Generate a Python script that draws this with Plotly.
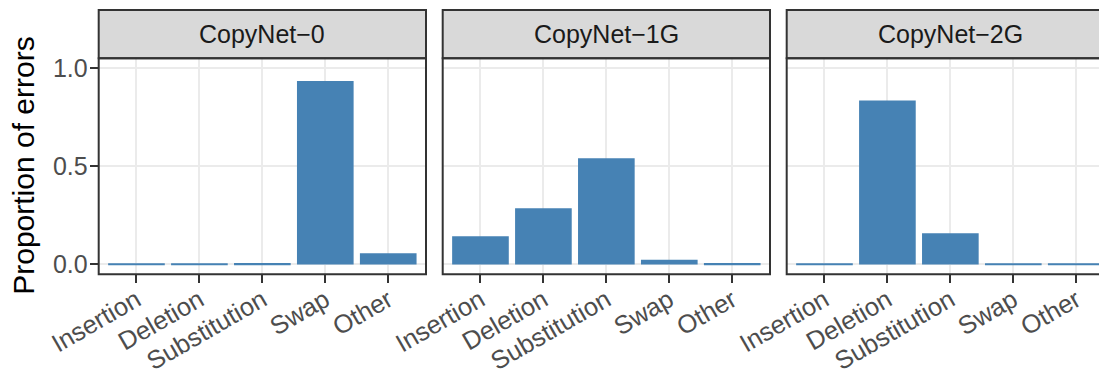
import plotly.graph_objects as go

categories = ["Insertion", "Deletion", "Substitution", "Swap", "Other"]
panels = ["CopyNet−0", "CopyNet−1G", "CopyNet−2G"]
copynet_0 = [0.003, 0.003, 0.007, 0.934, 0.057]
copynet_1g = [0.144, 0.286, 0.541, 0.024, 0.007]
copynet_2g = [0.003, 0.835, 0.159, 0.003, 0.003]
y_ticks = [0.0, 0.5, 1.0]

OFF = 8  # page body margin
W, H = 1107 - OFF, 371 - OFF
series = [copynet_0, copynet_1g, copynet_2g]

# panel pixel geometry (in window pixels)
panel_left = [98.7, 442.7, 786.7]
panel_w = 327.3
unit = panel_w / 5.2
panel_top, panel_bot = 58.3, 274.3
strip_top = 10.0

def px(x):
    return (x - OFF) / W

def py(y):
    return 1 - (y - OFF) / H

fig = go.Figure()
x_pos = list(range(1, 6))

shapes = []
annotations = []
GRID = "#EBEBEB"
DARK = "#333333"
FONT = "Liberation Sans, Arial"

for i, (name, vals) in enumerate(zip(panels, series)):
    k = "" if i == 0 else str(i + 1)
    fig.add_trace(go.Bar(
        x=x_pos, y=vals, width=0.9, marker=dict(color="#4682B4", line=dict(width=0)),
        xaxis="x" + k, yaxis="y" + k, showlegend=False,
        hovertext=categories, hoverinfo="text+y",
    ))
    left = panel_left[i]
    right = min(left + panel_w, 1107)
    xr_hi = 0.4 + (right - left) / unit
    fig.update_layout(**{
        "xaxis" + k: dict(
            domain=[px(left), min(px(right), 1.0)], range=[0.4, xr_hi], anchor="y" + k,
            tickmode="array", tickvals=x_pos, ticktext=categories, tickangle=-30,
            ticks="outside", ticklen=8, tickwidth=2, tickcolor=DARK,
            ticklabelstandoff=-8,
            showgrid=True, gridcolor=GRID, gridwidth=2.2, zeroline=False, showline=False,
            tickfont=dict(family=FONT, size=25.5, color="#4D4D4D"),
            fixedrange=True, automargin=False,
        ),
        "yaxis" + k: dict(
            domain=[py(panel_bot), py(panel_top)], range=[-0.05, 1.05], anchor="x" + k,
            tickmode="array", tickvals=y_ticks, tickformat=".1f",
            ticks="outside" if i == 0 else "", ticklen=8, tickwidth=2, tickcolor=DARK,
            ticklabelstandoff=-3,
            showticklabels=(i == 0),
            showgrid=True, gridcolor=GRID, gridwidth=2.2, zeroline=False, showline=False,
            tickfont=dict(family=FONT, size=25, color="#4D4D4D"),
            fixedrange=True, automargin=False,
        ),
    })
    # strip
    shapes.append(dict(type="rect", xref="paper", yref="paper",
                       x0=px(left), x1=px(left + panel_w), y0=py(panel_top), y1=py(strip_top),
                       fillcolor="#D9D9D9", line=dict(color=DARK, width=2), layer="above"))
    # panel border
    shapes.append(dict(type="rect", xref="paper", yref="paper",
                       x0=px(left), x1=px(left + panel_w), y0=py(panel_bot), y1=py(panel_top),
                       fillcolor="rgba(0,0,0,0)", line=dict(color=DARK, width=2), layer="above"))
    annotations.append(dict(text=name, xref="paper", yref="paper",
                            x=px(left + panel_w / 2), y=py((strip_top + panel_top) / 2),
                            xanchor="center", yanchor="middle", showarrow=False,
                            font=dict(family=FONT, size=25, color="#1A1A1A")))

annotations.append(dict(text="Proportion of errors", xref="paper", yref="paper",
                        x=px(23.5), y=py((panel_top + panel_bot) / 2), textangle=-90,
                        xanchor="center", yanchor="middle", showarrow=False,
                        font=dict(family=FONT, size=30, color="#000000")))

fig.update_layout(
    width=W, height=H, margin=dict(l=0, r=0, t=0, b=0, pad=0),
    paper_bgcolor="white", plot_bgcolor="white",
    shapes=shapes, annotations=annotations, bargap=0.1,
)

fig.write_html("out.html")
